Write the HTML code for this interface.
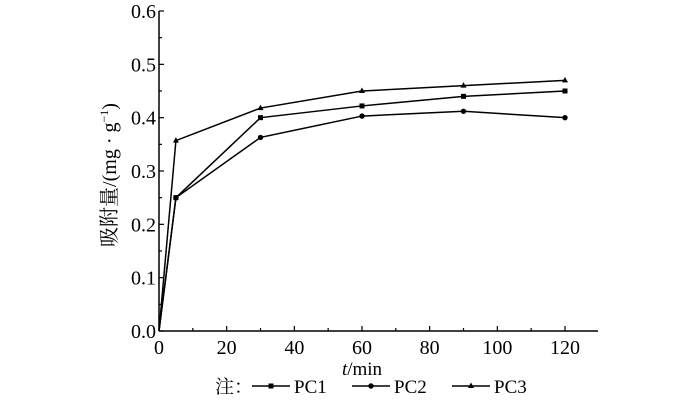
<!DOCTYPE html>
<html><head><meta charset="utf-8"><style>
html,body{margin:0;padding:0;background:#fff}
svg{display:block}
text{font-family:"Liberation Serif","Noto Serif CJK SC",serif;fill:#000}
</style></head><body>
<svg id="chart" width="700" height="401"></svg>
<script>
const xValues=[0,5,30,60,90,120];
const pc1=[0,0.25,0.40,0.422,0.44,0.45];
const pc2=[0,0.25,0.363,0.403,0.412,0.40];
const pc3=[0,0.357,0.418,0.45,0.46,0.47];
const xTicks=[0,20,40,60,80,100,120];
const yTicks=[0,0.1,0.2,0.3,0.4,0.5,0.6];
const seriesNames=["PC1","PC2","PC3"];
const NS="http://www.w3.org/2000/svg";
const svg=document.getElementById('chart');
const X0=159,X1=565,Y0=331,Y1=11;
const sx=v=>X0+(v-0)/120*(X1-X0);
const sy=v=>Y0-(v/0.6)*(Y0-Y1);
function mk(t,a,p){const e=document.createElementNS(NS,t);for(const k in a)e.setAttribute(k,a[k]);(p||svg).appendChild(e);return e;}
let ax=mk('line',{x1:X0,y1:Y0,x2:X0,y2:Y1,stroke:'#000','stroke-width':1.5});


let bx=mk('line',{x1:X0,y1:Y0,x2:598,y2:Y0,stroke:'#000','stroke-width':1.5});


for(let v=0;v<=120;v+=10){const x=sx(v);const major=v%20===0;
 const t=mk('line',{x1:x,y1:Y0,x2:x,y2:Y0-(major?5:3),stroke:'#000','stroke-width':1.2});
 
 }
xTicks.forEach(v=>{const t=mk('text',{x:sx(v),y:Y0+23,'text-anchor':'middle','font-size':20});t.textContent=v;
 
 });
for(let i=0;i<=12;i++){const v=i*0.05;const y=sy(v);const major=i%2===0;
 const t=mk('line',{x1:X0,y1:y,x2:X0+(major?5:3),y2:y,stroke:'#000','stroke-width':1.2});
 
 }
yTicks.forEach(v=>{const t=mk('text',{x:X0-3,y:sy(v)+7,'text-anchor':'end','font-size':20});t.textContent=v.toFixed(1);
 
 });
let xt=mk('text',{x:362,y:375,'text-anchor':'middle','font-size':19});
xt.innerHTML='<tspan font-style="italic">t</tspan>/min';


let yt=mk('text',{x:0,y:0,'text-anchor':'middle','font-size':20,transform:'translate(116,175) rotate(-90)'});
yt.innerHTML='吸附量/(mg · g<tspan font-size="12" dy="-8">−1</tspan><tspan dy="8">)</tspan>';


function marker(g,type,x,y){
 if(type===0)mk('rect',{x:x-2.5,y:y-2.5,width:5,height:5,fill:'#000'},g);
 else if(type===1)mk('circle',{cx:x,cy:y,r:2.7,fill:'#000'},g);
 else mk('polygon',{points:`${x},${y-3.5} ${x-3},${y+2} ${x+3},${y+2}`,fill:'#000'},g);
}
[pc1,pc2,pc3].forEach((s,k)=>{
 const g=mk('g',{});
 
 
 mk('polyline',{points:s.map((v,i)=>sx(xValues[i])+','+sy(v)).join(' '),fill:'none',stroke:'#000','stroke-width':1.5},g);
 s.forEach((v,i)=>{if(i>0)marker(g,k,sx(xValues[i]),sy(v));});
});
const lg=mk('g',{});


let nt=mk('text',{x:215,y:393,'font-size':19},lg);nt.textContent='注：';
const lx=[252,352,452];
seriesNames.forEach((n,k)=>{
 const e=mk('g',{},lg);
 
 
 mk('line',{x1:lx[k],y1:386,x2:lx[k]+38,y2:386,stroke:'#000','stroke-width':1.5},e);
 marker(e,k,lx[k]+19,386);
 const t=mk('text',{x:lx[k]+42,y:393,'font-size':19},e);t.textContent=n;
});
</script>
</body></html>
